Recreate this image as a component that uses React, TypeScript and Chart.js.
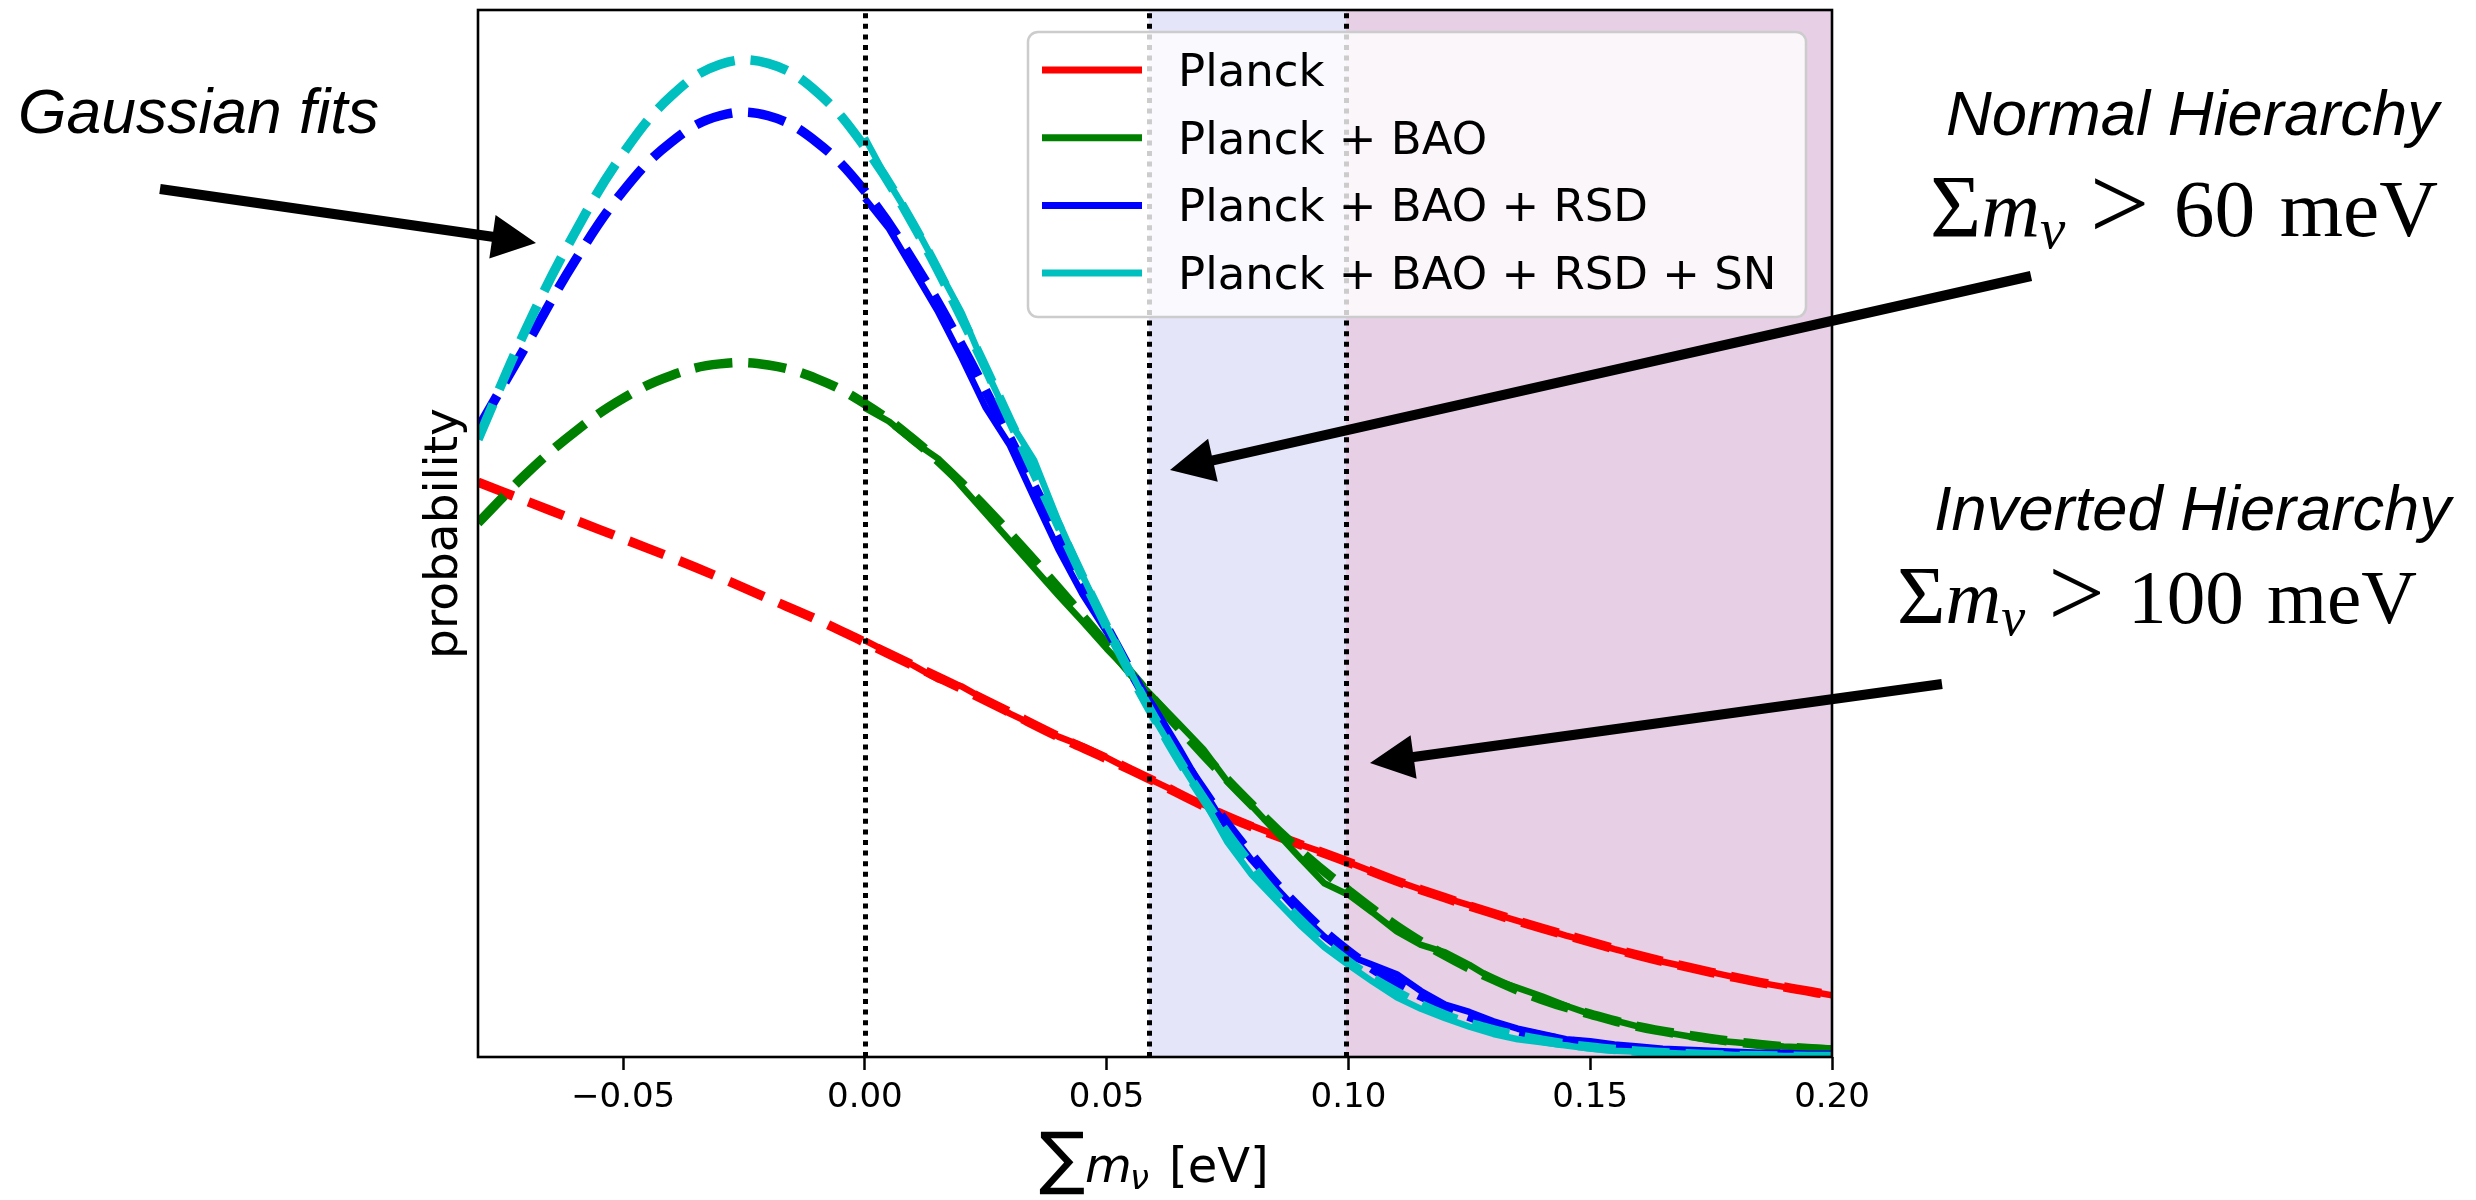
import React, { useEffect, useRef } from 'react';
import { Chart, registerables } from 'chart.js';

Chart.register(...registerables);

// ---------------- data ----------------
const X_MIN = -0.08;
const X_MAX = 0.2;
const Y_MIN = 0;
const Y_MAX = 1;
const X_TICKS = [-0.05, 0, 0.05, 0.1, 0.15, 0.2];

const ZERO_MASS = 0;
const NH_LIMIT = 0.0587;
const IH_LIMIT = 0.0995;

const SERIES_LABELS = ['Planck', 'Planck + BAO', 'Planck + BAO + RSD', 'Planck + BAO + RSD + SN'];

// sampled posteriors (solid)
const SAMPLE_X = [
  0, 0.005, 0.01, 0.015, 0.02, 0.025, 0.03, 0.035, 0.04, 0.045,
  0.05, 0.055, 0.06, 0.065, 0.07, 0.075, 0.08, 0.085, 0.09, 0.095,
  0.1, 0.105, 0.11, 0.115, 0.12, 0.125, 0.13, 0.135, 0.14, 0.145,
  0.15, 0.155, 0.16, 0.165, 0.17, 0.175, 0.18, 0.185, 0.19, 0.195, 0.2,
];
const PLANCK_POST = [
  0.398, 0.386, 0.374, 0.361, 0.354, 0.341, 0.328, 0.317, 0.306, 0.297,
  0.286, 0.274, 0.263, 0.252, 0.241, 0.230, 0.221, 0.212, 0.203, 0.195,
  0.186, 0.177, 0.168, 0.160, 0.152, 0.145, 0.137, 0.130, 0.123, 0.116,
  0.110, 0.103, 0.097, 0.091, 0.086, 0.081, 0.076, 0.071, 0.067, 0.063, 0.059,
];
const BAO_POST = [
  0.620, 0.607, 0.588, 0.572, 0.545, 0.519, 0.493, 0.467, 0.441, 0.416,
  0.390, 0.366, 0.342, 0.318, 0.294, 0.263, 0.240, 0.215, 0.190, 0.166,
  0.155, 0.138, 0.120, 0.107, 0.100, 0.088, 0.074, 0.066, 0.058, 0.049,
  0.041, 0.035, 0.029, 0.024, 0.020, 0.016, 0.014, 0.012, 0.010, 0.009, 0.008,
];
const RSD_POST = [
  0.820, 0.791, 0.752, 0.713, 0.668, 0.620, 0.584, 0.534, 0.485, 0.442,
  0.406, 0.368, 0.333, 0.295, 0.255, 0.218, 0.188, 0.162, 0.137, 0.115,
  0.097, 0.088, 0.079, 0.063, 0.050, 0.043, 0.034, 0.027, 0.022, 0.017,
  0.015, 0.012, 0.010, 0.008, 0.007, 0.006, 0.005, 0.004, 0.004, 0.003, 0.003,
];
const SN_POST = [
  0.878, 0.835, 0.797, 0.754, 0.711, 0.657, 0.607, 0.570, 0.512, 0.460,
  0.412, 0.368, 0.322, 0.283, 0.246, 0.205, 0.174, 0.150, 0.126, 0.105,
  0.088, 0.072, 0.057, 0.046, 0.037, 0.029, 0.022, 0.017, 0.014, 0.011,
  0.008, 0.006, 0.005, 0.004, 0.003, 0.003, 0.002, 0.002, 0.001, 0.001, 0.001,
];

// Gaussian fits (dashed)
const FIT_X = [
  -0.08, -0.07, -0.06, -0.05, -0.04, -0.03, -0.02, -0.01, 0, 0.01,
  0.02, 0.03, 0.04, 0.05, 0.06, 0.07, 0.08, 0.09, 0.1, 0.11,
  0.12, 0.13, 0.14, 0.15, 0.16, 0.17, 0.18, 0.19, 0.2,
];
const PLANCK_FIT = [
  0.549, 0.531, 0.513, 0.495, 0.477, 0.458, 0.438, 0.418, 0.396, 0.374,
  0.352, 0.329, 0.306, 0.285, 0.263, 0.240, 0.220, 0.203, 0.186, 0.168,
  0.152, 0.137, 0.123, 0.110, 0.097, 0.086, 0.076, 0.067, 0.059,
];
const BAO_FIT = [
  0.510, 0.557, 0.597, 0.629, 0.651, 0.662, 0.661, 0.648, 0.624, 0.590,
  0.548, 0.500, 0.448, 0.394, 0.340, 0.289, 0.241, 0.197, 0.159, 0.125,
  0.097, 0.074, 0.055, 0.041, 0.029, 0.021, 0.0145, 0.0099, 0.0066,
];
const RSD_FIT = [
  0.600, 0.680, 0.760, 0.827, 0.874, 0.899, 0.899, 0.874, 0.827, 0.760,
  0.680, 0.591, 0.500, 0.411, 0.328, 0.255, 0.193, 0.142, 0.101, 0.0705,
  0.048, 0.031, 0.020, 0.0124, 0.0075, 0.0044, 0.0025, 0.0014, 0.0008,
];
const SN_FIT = [
  0.590, 0.696, 0.787, 0.863, 0.918, 0.948, 0.949, 0.922, 0.869, 0.795,
  0.706, 0.608, 0.508, 0.411, 0.323, 0.247, 0.183, 0.131, 0.091, 0.062,
  0.040, 0.026, 0.016, 0.0095, 0.0055, 0.003, 0.0016, 0.0008, 0.0004,
];

const NH_VALUE_TEXT = '60';
const IH_VALUE_TEXT = '100';

// ---------------- styles ----------------
const COLORS = ['#ff0000', '#008000', '#0000ff', '#00bfbf'];
const SOLID_W = 6.5;
const DASH_W = 9.5;
const DASH = [38, 16];
const BAND_NH = 'rgb(229,229,250)';
const BAND_IH = 'rgb(231,208,230)';
const W = 2476;
const H = 1200;

type Part = { t?: string; italic?: boolean; scale?: number; dy?: number; gap?: number };

function drawRun(
  ctx: CanvasRenderingContext2D,
  parts: Part[],
  family: string,
  left: number,
  baseline: number,
  targetWidth: number,
) {
  const fontFor = (p: Part, size: number) =>
    `${p.italic ? 'italic ' : ''}${size * (p.scale ?? 1)}px ${family}`;
  const widthAt = (size: number) => {
    let w = 0;
    for (const p of parts) {
      if (p.gap) w += p.gap * size;
      if (p.t) {
        ctx.font = fontFor(p, size);
        w += ctx.measureText(p.t).width;
      }
    }
    return w;
  };
  const size = (100 * targetWidth) / widthAt(100);
  let x = left;
  ctx.textAlign = 'left';
  ctx.textBaseline = 'alphabetic';
  for (const p of parts) {
    if (p.gap) x += p.gap * size;
    if (p.t) {
      ctx.font = fontFor(p, size);
      ctx.fillText(p.t, x, baseline + (p.dy ?? 0) * size);
      x += ctx.measureText(p.t).width;
    }
  }
}

function drawArrow(
  ctx: CanvasRenderingContext2D,
  x0: number, y0: number, x1: number, y1: number,
  w = 10, hl = 44, hw = 44,
) {
  const dx = x1 - x0;
  const dy = y1 - y0;
  const L = Math.hypot(dx, dy);
  const ux = dx / L, uy = dy / L;
  const nx = -uy, ny = ux;
  const bx = x1 - ux * hl, by = y1 - uy * hl;
  ctx.beginPath();
  ctx.moveTo(x0 + (nx * w) / 2, y0 + (ny * w) / 2);
  ctx.lineTo(bx + (nx * w) / 2, by + (ny * w) / 2);
  ctx.lineTo(bx + (nx * hw) / 2, by + (ny * hw) / 2);
  ctx.lineTo(x1, y1);
  ctx.lineTo(bx - (nx * hw) / 2, by - (ny * hw) / 2);
  ctx.lineTo(bx - (nx * w) / 2, by - (ny * w) / 2);
  ctx.lineTo(x0 - (nx * w) / 2, y0 - (ny * w) / 2);
  ctx.closePath();
  ctx.fill();
}

const massParts = (val: string): Part[] => [
  { t: 'Σ', scale: 1.08 },
  { t: 'm', italic: true },
  { t: 'ν', italic: true, scale: 0.7, dy: 0.15 },
  { gap: 0.3 },
  { t: '>', scale: 1.3, dy: 0.04 },
  { gap: 0.3 },
  { t: val },
  { gap: 0.3 },
  { t: 'meV' },
];

const decorPlugin = {
  id: 'decor',
  beforeDatasetsDraw(chart: any) {
    const { ctx, chartArea: a, scales } = chart;
    const x = scales.x;
    const xNH = x.getPixelForValue(NH_LIMIT);
    const xIH = x.getPixelForValue(IH_LIMIT);
    ctx.save();
    ctx.fillStyle = BAND_NH;
    ctx.fillRect(xNH, a.top, xIH - xNH, a.bottom - a.top);
    ctx.fillStyle = BAND_IH;
    ctx.fillRect(xIH, a.top, a.right - xIH, a.bottom - a.top);
    ctx.restore();
  },
  afterDatasetsDraw(chart: any) {
    const { ctx, chartArea: a, scales } = chart;
    const x = scales.x;
    ctx.save();
    ctx.strokeStyle = '#000';
    ctx.lineWidth = 5;
    ctx.lineCap = 'butt';
    ctx.setLineDash([5, 5.6]);
    for (const v of [ZERO_MASS, NH_LIMIT, IH_LIMIT]) {
      const px = Math.round(x.getPixelForValue(v)) + 0.5;
      ctx.beginPath();
      ctx.moveTo(px, a.bottom);
      ctx.lineTo(px, a.top);
      ctx.stroke();
    }
    ctx.setLineDash([]);
    ctx.lineWidth = 2.6;
    ctx.strokeRect(a.left, a.top, a.right - a.left, a.bottom - a.top);
    ctx.restore();
  },
  afterDraw(chart: any) {
    const { ctx, chartArea: a } = chart;
    ctx.save();

    // legend
    const lx = 1028, ly = 32, lw = 778, lh = 285;
    ctx.beginPath();
    (ctx as any).roundRect(lx, ly, lw, lh, 10);
    ctx.fillStyle = 'rgba(255,255,255,0.8)';
    ctx.fill();
    ctx.strokeStyle = '#cccccc';
    ctx.lineWidth = 2.5;
    ctx.stroke();
    ctx.font = '45px "DejaVu Sans"';
    ctx.textAlign = 'left';
    ctx.textBaseline = 'alphabetic';
    SERIES_LABELS.forEach((lab, i) => {
      const ry = 70 + i * 67.7;
      ctx.strokeStyle = COLORS[i];
      ctx.lineWidth = 7;
      ctx.beginPath();
      ctx.moveTo(1042, ry);
      ctx.lineTo(1142, ry);
      ctx.stroke();
      ctx.fillStyle = '#000';
      ctx.fillText(lab, 1178, ry + 16);
    });

    ctx.fillStyle = '#000';
    // axis titles
    const cx = (a.left + a.right) / 2;
    ctx.save();
    ctx.translate(445, (a.top + a.bottom) / 2);
    ctx.rotate(-Math.PI / 2);
    ctx.font = '47px "DejaVu Sans"';
    ctx.textAlign = 'center';
    ctx.textBaseline = 'middle';
    ctx.fillText('probability', 0, 0);
    ctx.restore();

    // x title: ∑ m_ν [eV]
    ctx.textAlign = 'left';
    ctx.textBaseline = 'alphabetic';
    ctx.font = '100px "DejaVu Sans"';
    const sm = ctx.measureText('∑');
    const h100 = sm.actualBoundingBoxAscent + sm.actualBoundingBoxDescent;
    const sSize = (100 * 63) / h100;
    ctx.font = `${sSize}px "DejaVu Sans"`;
    const sm2 = ctx.measureText('∑');
    ctx.fillText('∑', cx - 116 + sm2.actualBoundingBoxLeft, 1195 - sm2.actualBoundingBoxDescent);
    ctx.font = 'italic 48px "DejaVu Sans"';
    ctx.fillText('m', cx - 70, 1182);
    ctx.font = 'italic 34px "DejaVu Sans"';
    ctx.fillText('ν', cx - 25, 1189);
    ctx.font = '48px "DejaVu Sans"';
    ctx.fillText('[eV]', cx + 14, 1182);

    // annotations
    const sans = '"Liberation Sans", Arial, sans-serif';
    const serif = '"Liberation Serif", "Times New Roman", serif';
    drawRun(ctx, [{ t: 'Gaussian fits', italic: true }], sans, 18, 133, 361);
    drawRun(ctx, [{ t: 'Normal Hierarchy', italic: true }], sans, 1946, 135, 493);
    drawRun(ctx, massParts(NH_VALUE_TEXT), serif, 1930, 236, 508);
    drawRun(ctx, [{ t: 'Inverted Hierarchy', italic: true }], sans, 1934, 530, 517);
    drawRun(ctx, massParts(IH_VALUE_TEXT), serif, 1897, 623, 520);

    // arrows
    ctx.fillStyle = '#000';
    drawArrow(ctx, 160, 189, 536, 243);
    drawArrow(ctx, 2031, 276, 1170, 470);
    drawArrow(ctx, 1942, 684, 1370, 763);

    ctx.restore();
  },
};

const POSTERIORS = [PLANCK_POST, BAO_POST, RSD_POST, SN_POST];
const FITS = [PLANCK_FIT, BAO_FIT, RSD_FIT, SN_FIT];

export default function App() {
  const ref = useRef<HTMLCanvasElement | null>(null);
  useEffect(() => {
    if (!ref.current) return;
    const datasets: any[] = [];
    SERIES_LABELS.forEach((label, i) => {
      datasets.push({
        label,
        data: SAMPLE_X.map((x, k) => ({ x, y: POSTERIORS[i][k] })),
        borderColor: COLORS[i],
        borderWidth: SOLID_W,
        pointRadius: 0,
        fill: false,
        tension: 0,
        clip: 0,
        borderJoinStyle: 'round',
        order: 8 - 2 * i,
      });
      datasets.push({
        label: label + ' (Gaussian fit)',
        data: FIT_X.map((x, k) => ({ x, y: FITS[i][k] })),
        borderColor: COLORS[i],
        borderWidth: DASH_W,
        borderDash: DASH,
        borderCapStyle: 'butt',
        pointRadius: 0,
        fill: false,
        tension: 0.4,
        clip: 0,
        order: 7 - 2 * i,
      });
    });
    const chart = new Chart(ref.current, {
      type: 'line',
      data: { datasets },
      options: {
        animation: false,
        responsive: false,
        devicePixelRatio: 1,
        layout: { padding: { left: 0, right: W - 1832, top: 10, bottom: 0 } },
        plugins: {
          legend: { display: false },
          tooltip: { enabled: false },
          title: { display: false },
        },
        scales: {
          x: {
            type: 'linear',
            min: X_MIN,
            max: X_MAX,
            afterBuildTicks: (s: any) => {
              s.ticks = X_TICKS.map((v) => ({ value: v }));
            },
            afterFit: (s: any) => {
              s.height = H - 1057;
            },
            ticks: {
              callback: (v: any) => {
                const n = Number(v);
                return (n < 0 ? '\u2212' : '') + Math.abs(n).toFixed(2);
              },
              font: { family: '"DejaVu Sans"', size: 34 },
              color: '#000',
              padding: 8,
              maxRotation: 0,
              minRotation: 0,
              autoSkip: false,
            },
            grid: {
              display: true,
              drawOnChartArea: false,
              drawTicks: true,
              tickLength: 13,
              tickWidth: 2.5,
              tickColor: '#000',
              color: '#000',
            },
            border: { display: false },
          },
          y: {
            type: 'linear',
            min: Y_MIN,
            max: Y_MAX,
            afterFit: (s: any) => {
              s.width = 478;
            },
            ticks: { display: false },
            grid: { display: false },
            border: { display: false },
          },
        },
      } as any,
      plugins: [decorPlugin],
    });
    return () => chart.destroy();
  }, []);
  return (
    <div style={{ position: 'fixed', left: 0, top: 0, width: W, height: H, background: '#fff' }}>
      <canvas ref={ref} width={W} height={H} style={{ display: 'block', width: W, height: H }} />
    </div>
  );
}
